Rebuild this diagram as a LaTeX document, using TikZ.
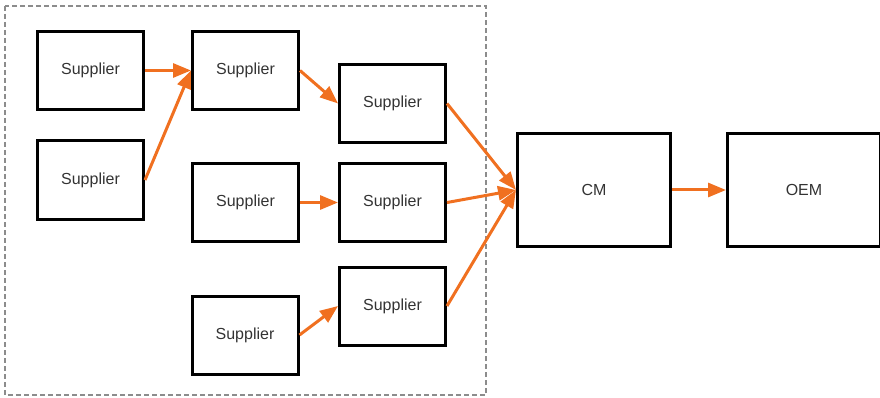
\documentclass[tikz,border=0pt]{standalone}
\usepackage{fontspec}
\setmainfont{Liberation Sans}
\usepackage{tikz}
\usetikzlibrary{arrows.meta}
\definecolor{flow}{RGB}{240,112,32}
\definecolor{frame}{RGB}{140,140,140}
\tikzset{
  firm/.style={draw=black,line width=3pt,minimum width=106pt,minimum height=78pt,
    inner sep=0pt,font=\fontsize{16}{19}\selectfont,text=black!80},
  bigfirm/.style={firm,minimum width=153pt,minimum height=113pt},
  ship/.style={draw=flow,line width=3pt,-{Triangle[length=18pt,width=14pt]}}
}

\begin{document}
\begin{tikzpicture}[x=1pt,y=-1pt]
\useasboundingbox (0,0) rectangle (880,398);
\draw[frame,line width=1.5pt,dash pattern=on 5pt off 3pt] (5,6) rectangle (486,395);
\node[firm] (s1) at (90.5,70.5) {Supplier};
\node[firm] (s2) at (90.5,180) {Supplier};
\node[firm] (s3) at (245.5,70.5) {Supplier};
\node[firm] (s4) at (392.5,103.5) {Supplier};
\node[firm] (s5) at (245.5,202.5) {Supplier};
\node[firm] (s6) at (392.5,202.5) {Supplier};
\node[firm] (s7) at (245,335) {Supplier};
\node[firm] (s8) at (392.5,306) {Supplier};
\node[bigfirm] (cm) at (594,190) {CM};
\node[bigfirm] (oem) at (804,190) {OEM};
\draw[ship] (s1.east) -- (s3.west);
\draw[ship] (s2.east) -- (s3.west);
\draw[ship] (s3.east) -- (s4.west);
\draw[ship] (s5.east) -- (s6.west);
\draw[ship] (s7.east) -- (s8.west);
\draw[ship] (s4.east) -- (cm.west);
\draw[ship] (s6.east) -- (cm.west);
\draw[ship] (s8.east) -- (cm.west);
\draw[ship] (cm.east) -- (oem.west);
\end{tikzpicture}
\end{document}
